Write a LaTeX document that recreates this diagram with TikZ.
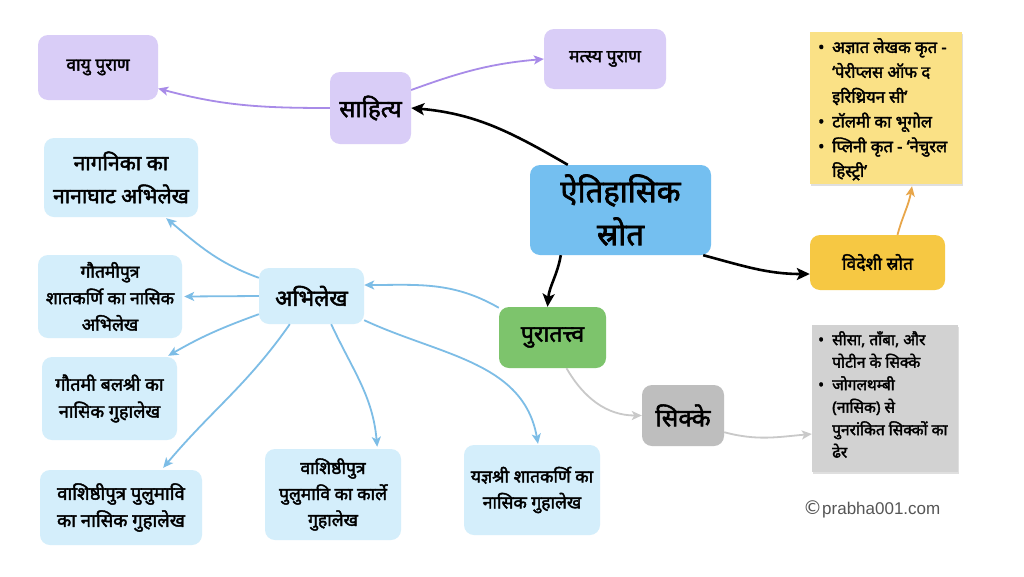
\documentclass[tikz,border=0pt]{standalone}
\usepackage{fontspec}
\setmainfont{Noto Sans}[Script=Devanagari, BoldFont={Noto Sans}, BoldFeatures={FakeBold=2.2}]
\newfontfamily\latinfont{Liberation Sans}
\newfontfamily\symfont{DejaVu Sans}
\usetikzlibrary{arrows.meta,shadows}
\definecolor{lav}{HTML}{D9CDF7}
\definecolor{lavline}{HTML}{A88BE8}
\definecolor{mainblue}{HTML}{74BFF0}
\definecolor{lblue}{HTML}{D4EEFB}
\definecolor{blueline}{HTML}{7DBDE6}
\definecolor{ynote}{HTML}{FAE186}
\definecolor{gold}{HTML}{F6C843}
\definecolor{orangeline}{HTML}{E8A64A}
\definecolor{green}{HTML}{7DC46C}
\definecolor{gbox}{HTML}{BEBEBE}
\definecolor{gnote}{HTML}{D2D2D2}
\definecolor{grayline}{HTML}{C9C9C9}
\definecolor{copy}{HTML}{555555}
\newcommand{\nbul}{\makebox[14pt][l]{•}}
\newcommand{\nind}{\hspace*{14pt}}
\begin{document}
\begin{tikzpicture}[x=1pt,y=-1pt,
  bx/.style={rounded corners=10pt, align=center, inner sep=0pt},
  sz/.style n args={2}{minimum width=#1pt, minimum height=#2pt},
  fs/.style n args={2}{font=\bfseries\fontsize{#1}{#2}\selectfont},
  note/.style={align=left, inner sep=0pt, drop shadow={opacity=0.25, shadow xshift=1pt, shadow yshift=-2pt}},
  blk/.style={draw=black, line width=2.6pt, -{Stealth[length=13pt,width=12pt,inset=3pt]}},
  thin/.style={line width=1.8pt, -{Stealth[length=10pt,width=9pt,inset=2.5pt]}},
]
\useasboundingbox (0,0) rectangle (1024,576);
\fill[white] (0,0) rectangle (1024,576);

% nodes
\node[bx, fill=lav, sz={120}{65}, fs={17.5}{20}] (vayu) at (98,67.5) {वायु पुराण};
\node[bx, fill=lav, sz={122}{60}, fs={17.5}{20}] (matsya) at (605,59) {मत्स्य पुराण};
\node[bx, fill=lav, sz={81}{72}, fs={24}{26}] (sahitya) at (370.5,108) {साहित्य};
\node[bx, fill=mainblue, sz={181}{90}, fs={31}{43}] (main) at (620.5,210) {ऐतिहासिक\\स्रोत};
\node[note, fill=ynote, sz={152}{152}] (ynotebox) at (886,108) {};
\node[anchor=north west, align=left, inner sep=0pt, fs={16.5}{24.8}] (ytext) at (818,38) {\nbul अज्ञात लेखक कृत -\\\nind ‘पेरीप्लस ऑफ द\\\nind इरिथ्रियन सी’\\\nbul टॉलमी का भूगोल\\\nbul प्लिनी कृत - ‘नेचुरल\\\nind हिस्ट्री’};
\node[bx, fill=gold, sz={135}{55}, fs={17.5}{20}] (videshi) at (877.5,262.5) {विदेशी स्रोत};
\node[bx, fill=lblue, sz={154}{79}, fs={21}{33}] (naganika) at (121,177.5) {नागनिका का\\नानाघाट अभिलेख};
\node[bx, fill=lblue, sz={105}{56}, fs={22.5}{26}] (abhilekh) at (311.5,296) {अभिलेख};
\node[bx, fill=lblue, sz={144}{83}, fs={17.5}{26.5}] (gautamiputra) at (110,296.5) {गौतमीपुत्र\\शातकर्णि का नासिक\\अभिलेख};
\node[bx, fill=lblue, sz={135}{83}, fs={18}{27}] (balashri) at (109.5,398.5) {गौतमी बलश्री का\\नासिक गुहालेख};
\node[bx, fill=lblue, sz={162}{75}, fs={18.5}{27}] (vnasik) at (121,507.5) {वाशिष्ठीपुत्र पुलुमावि\\का नासिक गुहालेख};
\node[bx, fill=lblue, sz={136}{91}, fs={17.5}{26}] (karle) at (333,494.5) {वाशिष्ठीपुत्र\\पुलुमावि का कार्ले\\गुहालेख};
\node[bx, fill=lblue, sz={136}{90}, fs={17.5}{26}] (yajna) at (532,490) {यज्ञश्री शातकर्णि का\\नासिक गुहालेख};
\node[bx, fill=green, sz={107}{61}, fs={23}{26}] (pura) at (552.5,337.5) {पुरातत्त्व};
\node[bx, fill=gbox, sz={82}{61}, fs={24.5}{26}] (sikke) at (683,415.5) {सिक्के};
\node[note, fill=gnote, sz={146}{147}] (gnotebox) at (885,398.5) {};
\node[anchor=north west, align=left, inner sep=0pt, fs={15.5}{22.5}] (gtext) at (818,331) {\nbul सीसा, ताँबा, और\\\nind पोटीन के सिक्के\\\nbul जोगलथम्बी\\\nind (नासिक) से\\\nind पुनरांकित सिक्कों का\\\nind ढेर};
\node[anchor=west, inner sep=0pt, text=copy] (copyright) at (803,509) {{\symfont\fontsize{19}{20}\selectfont ©}{\latinfont\fontsize{17}{20}\selectfont prabha001.com}};

% connectors
\draw[blk] ([xshift=38pt]main.north west) to[out=150,in=-5] (sahitya.east);
\draw[blk] ([xshift=31pt]main.south west) to[out=-100,in=85] ([xshift=-5pt]pura.north);
\draw[blk] ([xshift=-8pt]main.south east) to[out=-15,in=180] ([yshift=-11.5pt]videshi.west);
\draw[thin, draw=lavline] (sahitya.west) to[out=180,in=-15] ([yshift=-21pt]vayu.east);
\draw[thin, draw=lavline] ([yshift=18pt]sahitya.east) to[out=20,in=185] (matsya.west);
\draw[thin, draw=orangeline] ([xshift=20pt]videshi.north) to[out=75,in=-100] ([xshift=26pt,yshift=-2pt]ynotebox.south);
\draw[thin, draw=blueline] ([yshift=-1pt]pura.north west) to[out=150,in=0] ([yshift=11pt]abhilekh.east);
\draw[thin, draw=blueline] ([yshift=-10pt]abhilekh.north west) to[out=160,in=-40] ([xshift=-32pt,yshift=-1pt]naganika.south east);
\draw[thin, draw=blueline] (abhilekh.west) -- ([xshift=2pt]gautamiputra.east);
\draw[thin, draw=blueline] ([yshift=10pt]abhilekh.south west) to[out=200,in=30] ([xshift=-9pt,yshift=1pt]balashri.north east);
\draw[thin, draw=blueline] ([xshift=31pt]abhilekh.south west) to[out=-125,in=50] ([xshift=-39pt,yshift=2pt]vnasik.north east);
\draw[thin, draw=blueline] ([xshift=-33pt]abhilekh.south east) to[out=-65,in=95] ([xshift=-24pt,yshift=2pt]karle.north east);
\draw[thin, draw=blueline] ([yshift=4pt]abhilekh.south east) to[out=-25,in=100] ([xshift=6pt,yshift=1pt]yajna.north);
\draw[thin, draw=grayline] ([xshift=14pt]pura.south) to[out=-60,in=180] (sikke.west);
\draw[thin, draw=grayline] ([yshift=14pt]sikke.south east) to[out=-15,in=185] ([yshift=-35.5pt]gnotebox.west);
\end{tikzpicture}
\end{document}
